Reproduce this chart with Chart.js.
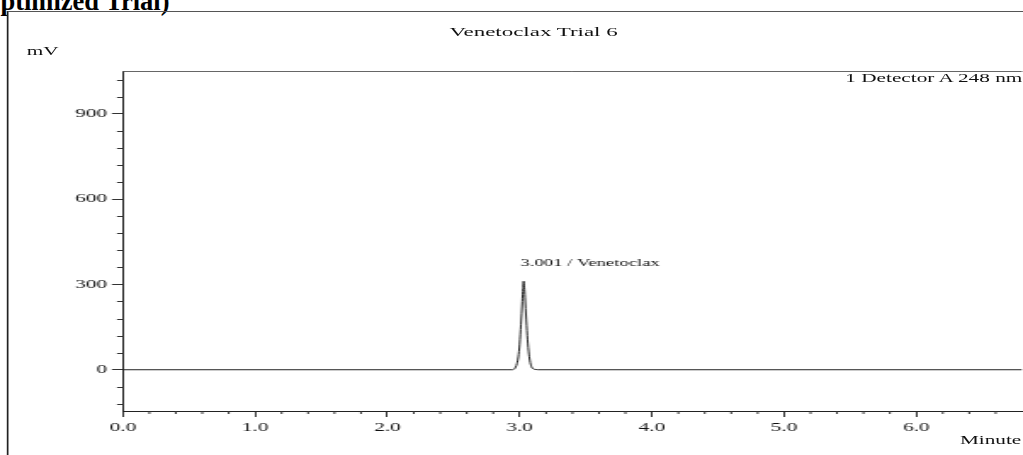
<!DOCTYPE html>
<html>
<head>
<meta charset="utf-8">
<script src="https://cdn.jsdelivr.net/npm/chart.js@4"></script>
<style>
  html, body { margin: 0; padding: 0; background: #fff; overflow: hidden; }
  body { width: 1023px; height: 455px; position: relative; font-family: 'Liberation Serif', 'Times New Roman', serif; }
  #heading { position: absolute; top: -12px; font-weight: bold; font-size: 26.5px; line-height: 26px; white-space: nowrap; color: #000; }
  /* the source picture is stretched sideways, so the chart is drawn narrow and widened */
  #stretch { position: absolute; left: 0; top: 0; width: 602px; height: 455px; transform: scaleX(1.6993); transform-origin: 0 0; }
  #frame { position: absolute; left: 4.4px; top: 11px; width: 700px; height: 500px; border-left: 1px solid #222; border-top: 1.5px solid #555; }
  #plot { position: absolute; left: 0; top: 0; width: 602px; height: 455px; }
  .lbl { position: absolute; font-size: 12.5px; line-height: 15px; color: #111; white-space: nowrap; }
</style>
</head>
<body>
<div id="heading"><span id="cut">(O</span>ptimized Trial)</div>
<div id="stretch">
  <div id="frame"></div>
  <div id="plot"><canvas id="chromatogram"></canvas></div>
  <div class="lbl" style="left:164px; width:300px; text-align:center; top:24px; font-size:13.5px;">Venetoclax Trial 6</div>
  <div class="lbl" style="left:15.7px; top:44px;">mV</div>
  <div class="lbl" style="right:0.4px; top:71.3px;">1 Detector A 248 nm</div>
  <div class="lbl" style="right:1px; top:433.3px;">Minute</div>
</div>
<script>
// heading is cut at the left edge of the picture
const cut = document.getElementById('cut');
document.getElementById('heading').style.left = -cut.offsetWidth + 'px';

// retention time (min) and detector signal (mV)
const retentionTime = [0.0, 2.90, 2.94, 2.96, 2.98, 2.99, 3.00, 3.01, 3.02, 3.025, 3.03, 3.035, 3.04, 3.05, 3.06, 3.07, 3.08, 3.09, 3.10, 3.12, 3.14, 6.8];
const signal        = [0,   0,    0,    3,    22,   45,   90,   160,  240,  285,   311,  290,   255,  175,  105,  55,   25,   10,   4,    1,    0,    0];
const peakLabel = '3.001 / Venetoclax';

const xMajor = [0, 1, 2, 3, 4, 5, 6];
const xLabels = ['0.0', '1.0', '2.0', '3.0', '4.0', '5.0', '6.0'];
const yMajor = [0, 300, 600, 900];
const yLabels = ['0', '300', '600', '900'];

const tickFont = { family: "'Liberation Serif', serif", size: 12.5 };

// minor ticks, top frame line and peak label
const chromDecor = {
  id: 'chromDecor',
  afterDraw(chart) {
    const { ctx, chartArea: a, scales: { x, y } } = chart;
    ctx.save();
    ctx.strokeStyle = '#666';
    ctx.lineWidth = 1;
    ctx.beginPath();
    ctx.moveTo(a.left, a.top + 0.5);
    ctx.lineTo(a.right, a.top + 0.5);
    ctx.stroke();

    ctx.strokeStyle = '#333';
    ctx.beginPath();
    for (let v = -120; v <= 1020; v += 60) {
      if (v % 300 === 0) continue;
      const py = Math.round(y.getPixelForValue(v)) + 0.5;
      ctx.moveTo(a.left - 3.5, py);
      ctx.lineTo(a.left, py);
    }
    for (let i = 1; i < 34; i++) {
      if (i % 5 === 0) continue;
      const px = x.getPixelForValue(i * 0.2);
      ctx.moveTo(px, a.bottom);
      ctx.lineTo(px, a.bottom + 3);
    }
    ctx.stroke();

    const top = signal.indexOf(Math.max(...signal));
    const px = x.getPixelForValue(retentionTime[top]);
    const py = y.getPixelForValue(signal[top]);
    ctx.fillStyle = '#111';
    ctx.font = "11px 'Liberation Serif', serif";
    ctx.textBaseline = 'alphabetic';
    ctx.fillText(peakLabel, px - 2, py - 15);
    ctx.restore();
  }
};

const ctx = document.getElementById('chromatogram').getContext('2d');
new Chart(ctx, {
  type: 'line',
  data: {
    datasets: [{
      label: 'Detector A 248 nm',
      data: retentionTime.map((t, i) => ({ x: t, y: signal[i] })),
      borderColor: '#222',
      borderWidth: 1,
      pointRadius: 0,
      cubicInterpolationMode: 'monotone',
      fill: false
    }]
  },
  options: {
    responsive: true,
    maintainAspectRatio: false,
    animation: false,
    layout: { padding: { top: 71, left: 0, right: 0, bottom: 0 } },
    plugins: { legend: { display: false }, tooltip: { enabled: false } },
    scales: {
      x: {
        type: 'linear',
        min: 0,
        max: 6.8,
        afterFit: s => { s.height = 44; },
        afterBuildTicks: s => { s.ticks = xMajor.map(v => ({ value: v })); },
        grid: { drawOnChartArea: false, tickLength: 6, tickColor: '#333' },
        border: { color: '#222', width: 1 },
        ticks: {
          autoSkip: false, maxRotation: 0, padding: 3, color: '#111', font: tickFont,
          callback: (v, i) => xLabels[i]
        }
      },
      y: {
        min: -145,
        max: 1050,
        afterFit: s => { s.width = 72.35; },
        afterBuildTicks: s => { s.ticks = yMajor.map(v => ({ value: v })); },
        grid: { drawOnChartArea: false, tickLength: 6.5, tickColor: '#333' },
        border: { color: '#222', width: 1 },
        ticks: {
          autoSkip: false, padding: 2.75, color: '#111', font: tickFont,
          callback: (v, i) => yLabels[i]
        }
      }
    }
  },
  plugins: [chromDecor]
});
</script>
</body>
</html>
